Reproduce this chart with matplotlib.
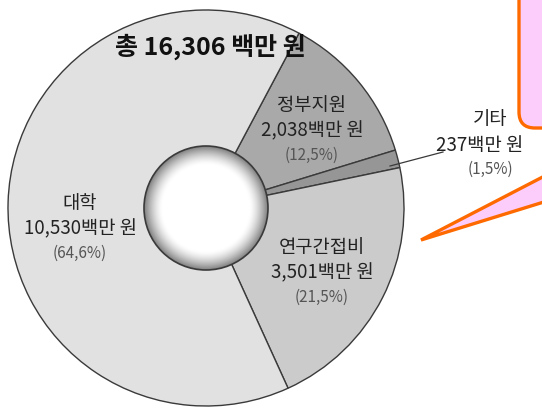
import numpy as np
import matplotlib
matplotlib.use("Agg")
import matplotlib.pyplot as plt
from matplotlib.patches import Circle, Polygon, FancyBboxPatch

plt.rcParams['font.family'] = ['Noto Sans CJK KR', 'DejaVu Sans']

# funding sources (million won), in clockwise order starting from the top-right
names = ["정부지원", "기타", "연구간접비", "대학"]
amounts = [2038, 237, 3501, 10530]
shares = [12.5, 1.5, 21.5, 64.6]
total = 16306
colors = ["#a9a9a9", "#969696", "#cbcbcb", "#e1e1e1"]

W, H = 542, 409
fig = plt.figure(figsize=(W / 100, H / 100), dpi=100)
ax = fig.add_axes([0, 0, 1, 1])

cx, cy, r_out, r_in = 206, 208, 198, 62

# y axis is flipped below, so counterclock=True runs clockwise on screen
ax.pie(amounts, colors=colors, center=(cx, cy), radius=r_out,
       startangle=-62, counterclock=True,
       wedgeprops=dict(edgecolor="#3a3a3a", linewidth=1.0))

# hole with a soft grey rim
n = 200
gx, gy = np.meshgrid(np.linspace(-1, 1, n), np.linspace(-1, 1, n))
rr = np.sqrt(gx ** 2 + gy ** 2)
shade = np.clip((rr - 0.70) / 0.30, 0, 1) ** 1.5
img = 1.0 - 0.5 * shade
hole_clip = Circle((cx, cy), r_in, transform=ax.transData)
im = ax.imshow(img, cmap="gray", vmin=0, vmax=1,
               extent=[cx - r_in, cx + r_in, cy + r_in, cy - r_in], zorder=3)
im.set_clip_path(hole_clip)
ax.add_patch(Circle((cx, cy), r_in, fill=False, edgecolor="#3a3a3a",
                    linewidth=1.2, zorder=4))

ax.set_xlim(0, W)
ax.set_ylim(H, 0)
ax.set_aspect("auto")
ax.axis("off")

# centre-top total
ax.text(210, 47, f"총 {total:,} 백만 원", fontsize=18, fontweight="bold",
        ha="center", va="center", color="#111111", zorder=5)

label_pos = {
    "정부지원": (312, 106),
    "기타": (490, 120),
    "연구간접비": (322, 248),
    "대학": (80, 204),
}
for name, amt, pct in zip(names, amounts, shares):
    x, y = label_pos[name]
    ax.text(x, y, name, fontsize=13.5, fontweight="medium", ha="center", va="center",
            color="#222222", zorder=5)
    ax.text(x - (10 if name == "기타" else 0), y + 25, f"{amt:,}백만 원", fontsize=13.5,
            fontweight="medium", ha="center", va="center", color="#222222", zorder=5)
    ax.text(x, y + 49, f"({pct:.1f}%)".replace(".", ","), fontsize=11,
            ha="center", va="center", color="#555555", zorder=5)

# leader for the small slice
ax.plot([390, 443], [166, 152], color="#3a3a3a", linewidth=0.9, zorder=5)

# pink speech bubble at the top right
pink, orange = "#fccdfb", "#ff6a00"
box = FancyBboxPatch((519, -60), 120, 188, boxstyle="round,pad=0,rounding_size=16",
                     facecolor=pink, edgecolor=orange, linewidth=2.4, zorder=6)
ax.add_patch(box)
tail = Polygon([(560, 168), (421, 240), (560, 197)], closed=False,
               facecolor=pink, edgecolor=orange, linewidth=2.4, zorder=7)
ax.add_patch(tail)

fig.savefig("out.png", dpi=100)
